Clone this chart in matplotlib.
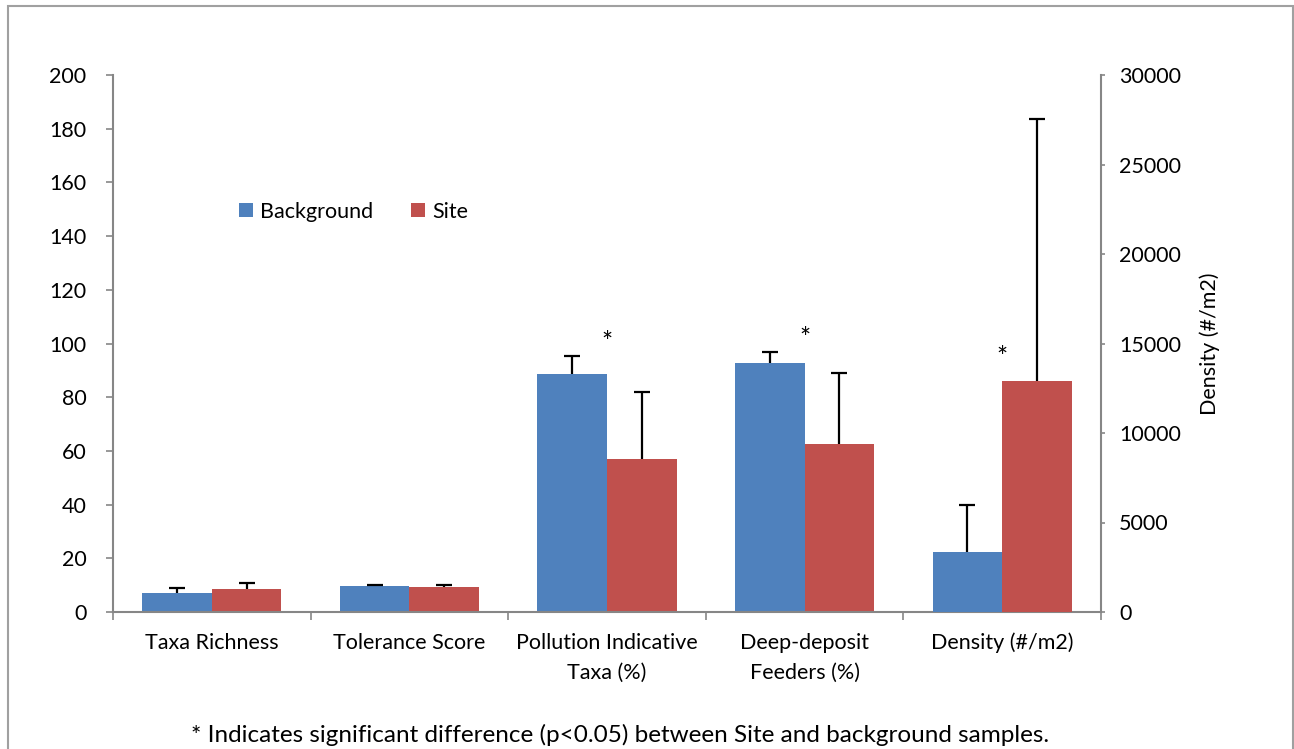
import matplotlib
matplotlib.use('Agg')
from matplotlib import pyplot as plt
from matplotlib.patches import Rectangle
import numpy as np

plt.rcParams['font.family'] = ['Lato', 'DejaVu Sans']

# metrics on the left axis, density on the right axis
categories = ['Taxa Richness', 'Tolerance Score', 'Pollution Indicative\nTaxa (%)',
              'Deep-deposit\nFeeders (%)', 'Density (#/m2)']
background = [7.0, 9.6, 88.6, 92.6]
background_err = [2.1, 0.4, 6.7, 4.2]
site = [8.4, 9.2, 57.0, 62.4]
site_err = [2.5, 0.8, 24.8, 26.5]
density_background = 3350
density_background_err = 2640
density_site = 12900
density_site_err = 14640
significant = [False, False, True, True, True]

blue = '#4f81bd'
red = '#c0504d'
grey = '#868686'
fs = 15.5

fig = plt.figure(figsize=(12.94, 7.49), dpi=100)
ax = fig.add_axes([113 / 1294, 1 - 612 / 749, (1101 - 113) / 1294, (612 - 75) / 749])
ax2 = ax.twinx()

x = np.arange(len(categories))
w = 0.352


def upper_err(a, xs, ys, errs):
    # one-sided error bars: stem and cap on top only
    n = len(xs)
    _, caps, _ = a.errorbar(xs, ys, yerr=[np.zeros(n), errs], fmt='none',
                            ecolor='black', elinewidth=1.6, capsize=6,
                            capthick=1.6, zorder=3)
    caps[0].set_visible(False)


n = len(background)
ax.bar(x[:n] - w / 2, background, w, color=blue, label='Background', zorder=2)
ax.bar(x[:n] + w / 2, site, w, color=red, label='Site', zorder=2)
upper_err(ax, x[:n] - w / 2, background, background_err)
upper_err(ax, x[:n] + w / 2, site, site_err)

ax2.bar(x[n] - w / 2, density_background, w, color=blue, zorder=2)
ax2.bar(x[n] + w / 2, density_site, w, color=red, zorder=2)
upper_err(ax2, [x[n] - w / 2], [density_background], [density_background_err])
upper_err(ax2, [x[n] + w / 2], [density_site], [density_site_err])

# asterisk a little above the background bar's error bar (density: above the site bar)
tops = [b + e for b, e in zip(background, background_err)]
for i in range(n):
    if significant[i]:
        ax.annotate('*', (x[i], tops[i]), xytext=(0, 9), textcoords='offset points',
                    ha='center', va='center', fontsize=19)
if significant[n]:
    ax2.annotate('*', (x[n], density_site), xytext=(0, 16), textcoords='offset points',
                 ha='center', va='center', fontsize=19)

ax.set_xlim(-0.5, len(categories) - 0.5)
ax.set_ylim(0, 200)
ax.set_yticks(np.arange(0, 201, 20))
ax2.set_ylim(0, 30000)
ax2.set_yticks(np.arange(0, 30001, 5000))

ax.set_xticks(x)
ax.set_xticklabels(categories, fontsize=fs, linespacing=1.6)
ax.set_xticks(np.arange(-0.5, len(categories), 1), minor=True)
ax.tick_params(axis='x', which='major', length=0, pad=15)
ax.tick_params(axis='x', which='minor', length=6, color=grey, width=1.2)
ax.tick_params(axis='y', labelsize=fs, length=5, color=grey, width=1.2, pad=14)
ax2.tick_params(axis='y', labelsize=fs, length=3, color=grey, width=1.2, pad=10)
ax2.set_ylabel('Density (#/m2)', fontsize=fs)
ax2.yaxis.set_label_coords(1.1, 0.5)

for a in (ax, ax2):
    a.spines['top'].set_visible(False)
    for side in ('left', 'right', 'bottom'):
        a.spines[side].set_color(grey)
        a.spines[side].set_linewidth(1.5)
ax.spines['right'].set_visible(False)
ax2.spines['left'].set_visible(False)
ax2.spines['bottom'].set_visible(False)

ax.legend(loc='upper left', bbox_to_anchor=(0.108, 0.8), ncol=2, frameon=False,
          fontsize=fs, handlelength=0.65, handleheight=0.65, handletextpad=0.3,
          columnspacing=1.8)

fig.text(620 / 1294, 1 - 735 / 749, '* Indicates significant difference (p<0.05) between Site and background samples.',
         ha='center', va='center', fontsize=17.5)

fig.patches.append(Rectangle((8 / 1294, -0.05), (1293 - 8) / 1294, 1.05 - 6 / 749,
                             transform=fig.transFigure, fill=False,
                             edgecolor='#a0a0a0', linewidth=1.5))

fig.savefig('out.png', dpi=100)
